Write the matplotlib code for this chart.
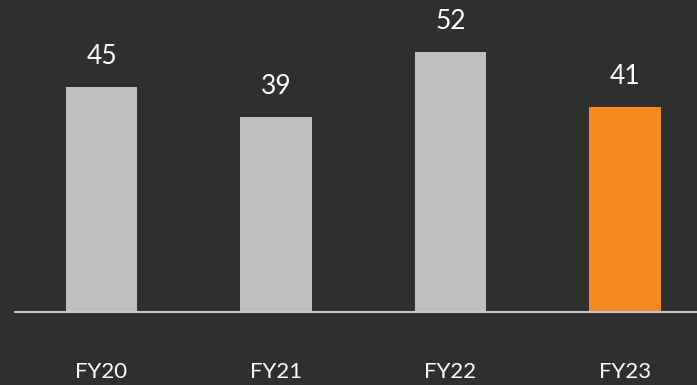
import numpy as np
import matplotlib.pyplot as plt

# chart data
categories = ['FY20', 'FY21', 'FY22', 'FY23']
values = [45, 39, 52, 41]
bar_colors = ['#bfbfbf', '#bfbfbf', '#bfbfbf', '#f28a1f']

bg = '#2f2f2f'
plt.rcParams['font.family'] = ['Lato', 'DejaVu Sans']

fig = plt.figure(figsize=(6.97, 3.85), dpi=100, facecolor=bg)
ax = fig.add_axes([15 / 697, 73 / 385, 682 / 697, 312 / 385])
ax.set_facecolor(bg)

x = np.arange(len(categories))
bars = ax.bar(x, values, width=0.41, color=bar_colors, zorder=2)

# value labels above each bar
for xi, v in zip(x, values):
    ax.annotate(str(v), (xi, v), xytext=(0, 22), textcoords='offset points',
                ha='center', va='center', color='white', fontsize=19)

ax.set_xlim(-0.496, 3.413)
ax.set_ylim(0, 62.4)
ax.set_xticks(x)
ax.set_xticklabels(categories, color='white', fontsize=16)
ax.tick_params(axis='x', length=0, pad=36)
ax.set_yticks([])

for side in ['top', 'right', 'left']:
    ax.spines[side].set_visible(False)
ax.spines['bottom'].set_color('#c8c8c8')
ax.spines['bottom'].set_linewidth(1.5)

plt.savefig('out.png', dpi=100, facecolor=bg)
